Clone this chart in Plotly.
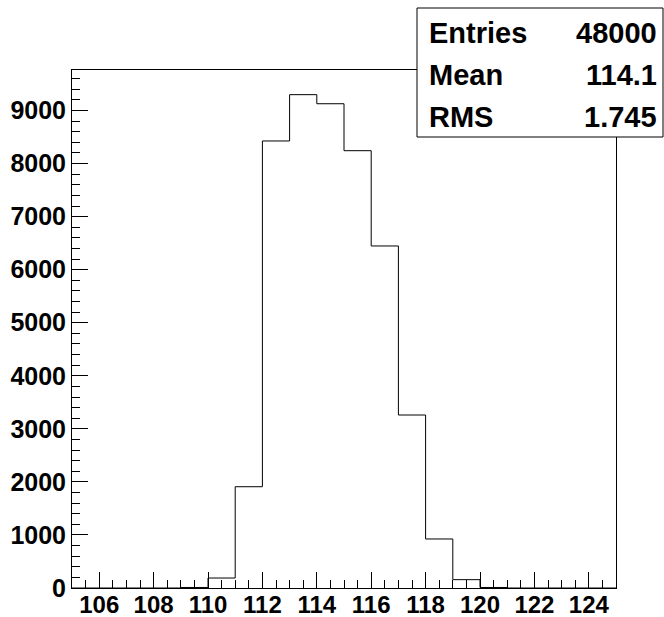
import plotly.graph_objects as go

# Histogram definition: 20 unit-wide bins from 105 to 125
bin_low = 105.0
bin_width = 1.0
counts = [0, 0, 0, 0, 10, 188, 1909, 8426, 9299, 9128,
          8243, 6447, 3261, 924, 157, 10, 0, 0, 0, 0]

stat_labels = ["Entries", "Mean", "RMS"]
stat_values = ["48000", "114.1", "1.745"]

edges = [bin_low + i * bin_width for i in range(len(counts) + 1)]
step_y = counts + [counts[-1]]

W, H = 664, 617
ML, MR, MT, MB = 72, 48, 70, 29
PW, PH = W - ML - MR, H - MT - MB


def px(xp):
    return (xp - ML) / PW


def py(yp):
    return (H - MB - yp) / PH


FONT = "Liberation Sans"

fig = go.Figure()
fig.add_trace(go.Scatter(
    x=edges, y=step_y, mode="lines", line_shape="hv",
    line=dict(color="black", width=1), hoverinfo="skip", showlegend=False,
))

axis_common = dict(
    showgrid=False, zeroline=False, showline=True, linecolor="black",
    linewidth=1, mirror=True, ticks="inside", tickcolor="black",
    automargin=False,
)

fig.update_xaxes(
    range=[105, 125], tick0=106, dtick=2, ticklen=16, tickwidth=1,
    ticklabelstandoff=-5,
    tickfont=dict(family=FONT, size=24, color="black", weight="bold"),
    minor=dict(dtick=0.5, tick0=105, ticklen=8, ticks="inside", tickcolor="black"),
    **axis_common,
)
fig.update_yaxes(
    range=[0, max(counts) * 1.05], tick0=0, dtick=1000, ticklen=16, tickwidth=1,
    tickfont=dict(family=FONT, size=25, color="black", weight="bold"),
    minor=dict(dtick=200, tick0=0, ticklen=8, ticks="inside", tickcolor="black"),
    **axis_common,
)

# Statistics box
fig.add_shape(type="rect", xref="paper", yref="paper",
              x0=px(417), x1=px(663), y0=py(137), y1=py(8),
              line=dict(color="black", width=1), fillcolor="white", layer="above")
row_y = [33, 75, 117]
for lab, val, ry in zip(stat_labels, stat_values, row_y):
    fig.add_annotation(text=lab, xref="paper", yref="paper", x=px(427), y=py(ry),
                       xanchor="left", yanchor="middle", showarrow=False,
                       font=dict(family=FONT, size=29, color="black", weight="bold"))
    fig.add_annotation(text=val, xref="paper", yref="paper", x=px(659), y=py(ry),
                       xanchor="right", yanchor="middle", showarrow=False,
                       font=dict(family=FONT, size=29, color="black", weight="bold"))

fig.update_layout(
    width=W, height=H, margin=dict(l=ML, r=MR, t=MT, b=MB),
    paper_bgcolor="white", plot_bgcolor="white",
)

fig.write_html("out.html")
